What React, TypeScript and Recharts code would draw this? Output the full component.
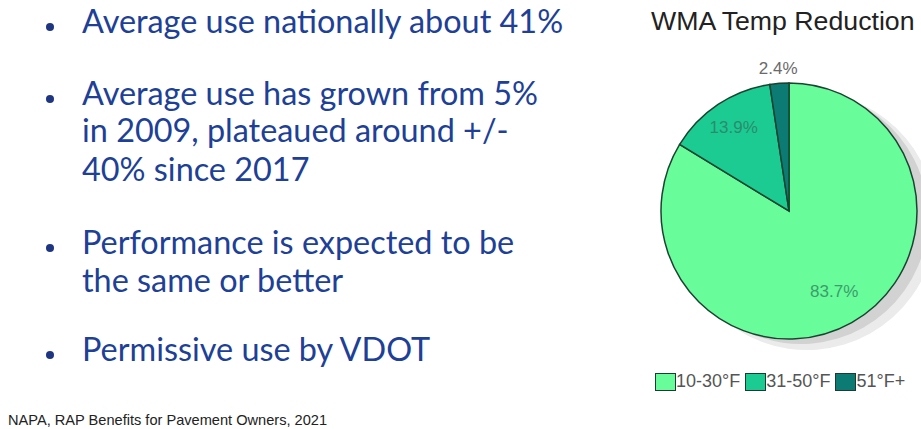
import { PieChart, Pie, Cell, Legend } from 'recharts';

const categories = ['10-30°F', '31-50°F', '51°F+'];
const shares = [83.7, 13.9, 2.4];
const sliceColors = ['#68fc9b', '#1bcb91', '#0c7b73'];
const labelColors = ['#3d9c6a', '#2b8b6d', '#6a6a6a'];

const bulletLines = [
  ['Average use nationally about 41%'],
  ['Average use has grown from 5%', 'in 2009, plateaued around +/-', '40% since 2017'],
  ['Performance is expected to be', 'the same or better'],
  ['Permissive use by VDOT'],
];

const title = 'WMA Temp Reduction';
const source = 'NAPA, RAP Benefits for Pavement Owners, 2021';

const pieData = categories.map((name, i) => ({ name, value: shares[i] }));

// line tops for the bullet text, one list per bullet
const lineTops = [[5], [77, 114, 153], [226, 264], [333]];
const labelRadius = [0.72, 0.78, 1.12];

const RADIAN = Math.PI / 180;
const sans = "'Liberation Sans', Arial, sans-serif";

const renderLabel = (props: any) => {
  const { cx, cy, midAngle, outerRadius, index, value } = props;
  const r = outerRadius * labelRadius[index];
  const x = cx + r * Math.cos(-midAngle * RADIAN);
  const y = cy + r * Math.sin(-midAngle * RADIAN);
  return (
    <text
      x={x}
      y={y}
      fill={labelColors[index]}
      textAnchor="middle"
      dominantBaseline="central"
      fontSize={17}
      fontFamily={sans}
    >
      {value.toFixed(1)}%
    </text>
  );
};

const renderLegend = (props: any) => {
  const items = (props.payload || []).filter((p: any) => p.type !== 'none');
  return (
    <div style={{ display: 'flex', alignItems: 'center' }}>
      {items.map((entry: any, i: number) => (
        <div key={entry.value} style={{ display: 'flex', alignItems: 'center', marginLeft: i === 0 ? 0 : 5 }}>
          <span
            style={{
              width: 21,
              height: 18,
              background: entry.color,
              border: '1.5px solid #1d3b32',
              boxSizing: 'border-box',
              display: 'inline-block',
            }}
          />
          <span style={{ fontSize: 18, color: '#555', fontFamily: sans }}>{entry.value}</span>
        </div>
      ))}
    </div>
  );
};

export default function App() {
  return (
    <div style={{ position: 'absolute', left: 0, top: 0, width: 921, height: 429, background: '#fff', overflow: 'hidden' }}>
      <PieChart width={921} height={429} style={{ position: 'absolute', left: 0, top: 0 }}>
        {/* two flat grey pies stand in for the soft drop shadow */}
        <Pie
          id="shadowOuter"
          data={pieData}
          dataKey="value"
          nameKey="name"
          cx={802}
          cy={216}
          outerRadius={129}
          startAngle={90}
          endAngle={-270}
          stroke="none"
          legendType="none"
          isAnimationActive={false}
          label={false}
        >
          {pieData.map((d) => (
            <Cell key={'o' + d.name} fill="#ebebeb" />
          ))}
        </Pie>
        <Pie
          id="shadowInner"
          data={pieData}
          dataKey="value"
          nameKey="name"
          cx={796}
          cy={212}
          outerRadius={127}
          startAngle={90}
          endAngle={-270}
          stroke="none"
          legendType="none"
          isAnimationActive={false}
          label={false}
        >
          {pieData.map((d) => (
            <Cell key={'i' + d.name} fill="#d2d2d2" />
          ))}
        </Pie>
        <Pie
          id="main"
          data={pieData}
          dataKey="value"
          nameKey="name"
          cx={784}
          cy={206}
          outerRadius={128}
          startAngle={90}
          endAngle={-270}
          stroke="#1a4430"
          strokeWidth={1.5}
          labelLine={false}
          label={renderLabel}
          isAnimationActive={false}
        >
          {pieData.map((d, i) => (
            <Cell key={d.name} fill={sliceColors[i]} />
          ))}
        </Pie>
        <Legend content={renderLegend} wrapperStyle={{ position: 'absolute', left: 655, top: 371, width: 266 }} />
      </PieChart>

      <div
        style={{
          position: 'absolute',
          left: 651,
          top: 8,
          fontSize: 26.7,
          lineHeight: '27px',
          color: '#222',
          fontFamily: sans,
          whiteSpace: 'nowrap',
        }}
      >
        {title}
      </div>

      {bulletLines.map((lines, b) => (
        <div key={b}>
          <span
            style={{
              position: 'absolute',
              left: 46,
              top: lineTops[b][0] + 18,
              width: 8,
              height: 8,
              borderRadius: '50%',
              background: '#1e3582',
            }}
          />
          {lines.map((line, j) => (
            <div
              key={j}
              style={{
                position: 'absolute',
                left: 82,
                top: lineTops[b][j],
                fontSize: 32.4,
                lineHeight: '32px',
                color: '#203f96',
                fontFamily: 'Lato, sans-serif',
                whiteSpace: 'nowrap',
              }}
            >
              {line}
            </div>
          ))}
        </div>
      ))}

      <div
        style={{
          position: 'absolute',
          left: 8,
          top: 413,
          fontSize: 14.6,
          lineHeight: '15px',
          color: '#222',
          fontFamily: sans,
          whiteSpace: 'nowrap',
        }}
      >
        {source}
      </div>
    </div>
  );
}
